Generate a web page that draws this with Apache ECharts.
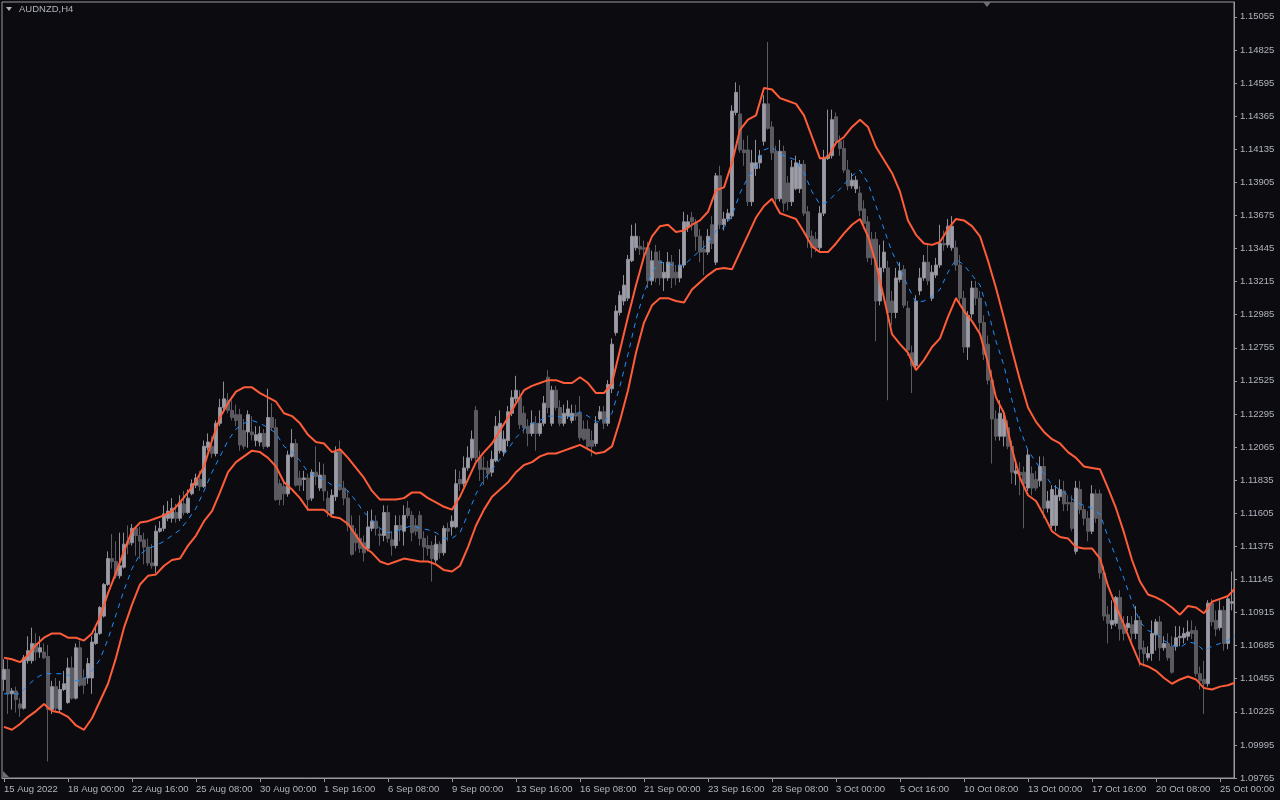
<!DOCTYPE html>
<html>
<head>
<meta charset="utf-8">
<script src="https://cdn.jsdelivr.net/npm/echarts@6/dist/echarts.min.js"></script>
<style>
html,body{margin:0;padding:0;background:#0b0b10;}
#chart{width:1280px;height:800px;}
</style>
</head>
<body>
<div id="chart"></div>
<script>
// ---- tick labels ----
const tickLabels = ["15 Aug 2022","18 Aug 00:00","22 Aug 16:00","25 Aug 08:00","30 Aug 00:00","1 Sep 16:00","6 Sep 08:00","9 Sep 00:00","13 Sep 16:00","16 Sep 08:00","21 Sep 00:00","23 Sep 16:00","28 Sep 08:00","3 Oct 00:00","5 Oct 16:00","10 Oct 08:00","13 Oct 00:00","17 Oct 16:00","20 Oct 08:00","25 Oct 00:00"];
const yTickStart = 1.09765;   // lowest price label
const yTickStep = 0.0023;     // price label spacing
const yTop = 1.15158;         // top edge of the price scale

// ---- candles: [open, close, low, high] ----
const candles = [
[1.1045,1.1052,1.1037,1.1059],[1.1052,1.1035,1.1021,1.1059],[1.1035,1.1037,1.1024,1.1039],[1.1037,1.1031,1.1022,1.1040],[1.1028,1.1025,1.1019,1.1032],
[1.1025,1.1060,1.1024,1.1062],[1.1058,1.1065,1.1056,1.1075],[1.1058,1.1070,1.1056,1.1081],[1.1070,1.1064,1.1058,1.1077],[1.1064,1.1067,1.1060,1.1075],
[1.1064,1.1060,1.1059,1.1070],[1.1061,1.1024,1.0988,1.1069],[1.1024,1.1040,1.1021,1.1044],[1.1040,1.1025,1.1023,1.1046],[1.1024,1.1038,1.1022,1.1044],
[1.1038,1.1042,1.1037,1.1051],[1.1029,1.1053,1.1028,1.1060],[1.1053,1.1032,1.1031,1.1061],[1.1032,1.1067,1.1031,1.1070],[1.1067,1.1041,1.1040,1.1072],
[1.1046,1.1041,1.1035,1.1052],[1.1046,1.1056,1.1042,1.1060],[1.1046,1.1071,1.1035,1.1075],[1.1070,1.1077,1.1069,1.1081],[1.1077,1.1095,1.1076,1.1096],
[1.1089,1.1111,1.1088,1.1112],[1.1111,1.1129,1.1110,1.1134],[1.1129,1.1127,1.1122,1.1146],[1.1127,1.1117,1.1115,1.1141],[1.1117,1.1124,1.1115,1.1147],
[1.1123,1.1139,1.1122,1.1147],[1.1141,1.1139,1.1132,1.1152],[1.1140,1.1150,1.1138,1.1153],[1.1150,1.1145,1.1131,1.1151],[1.1145,1.1141,1.1129,1.1151],
[1.1142,1.1137,1.1125,1.1147],[1.1137,1.1126,1.1124,1.1143],[1.1126,1.1124,1.1122,1.1139],[1.1124,1.1148,1.1119,1.1152],[1.1148,1.1150,1.1147,1.1155],
[1.1150,1.1160,1.1148,1.1166],[1.1157,1.1162,1.1155,1.1169],[1.1157,1.1164,1.1154,1.1171],[1.1161,1.1157,1.1154,1.1167],[1.1157,1.1168,1.1155,1.1173],
[1.1167,1.1161,1.1159,1.1176],[1.1161,1.1171,1.1160,1.1177],[1.1174,1.1181,1.1173,1.1184],[1.1180,1.1185,1.1178,1.1188],[1.1184,1.1179,1.1176,1.1190],
[1.1179,1.1207,1.1178,1.1211],[1.1206,1.1210,1.1204,1.1216],[1.1207,1.1202,1.1199,1.1214],[1.1202,1.1223,1.1200,1.1225],[1.1223,1.1234,1.1221,1.1240],
[1.1234,1.1240,1.1232,1.1252],[1.1239,1.1232,1.1230,1.1244],[1.1232,1.1227,1.1225,1.1239],[1.1229,1.1225,1.1221,1.1236],[1.1229,1.1208,1.1204,1.1233],
[1.1218,1.1207,1.1205,1.1226],[1.1217,1.1229,1.1206,1.1232],[1.1217,1.1215,1.1211,1.1228],[1.1211,1.1215,1.1207,1.1221],[1.1210,1.1216,1.1207,1.1221],
[1.1216,1.1207,1.1205,1.1219],[1.1207,1.1227,1.1206,1.1247],[1.1227,1.1220,1.1218,1.1237],[1.1220,1.1170,1.1169,1.1226],[1.1181,1.1170,1.1166,1.1184],
[1.1179,1.1174,1.1166,1.1183],[1.1174,1.1201,1.1172,1.1204],[1.1200,1.1209,1.1199,1.1219],[1.1209,1.1180,1.1179,1.1212],[1.1185,1.1180,1.1176,1.1190],
[1.1184,1.1185,1.1176,1.1190],[1.1185,1.1170,1.1162,1.1188],[1.1171,1.1189,1.1169,1.1191],[1.1189,1.1186,1.1180,1.1207],[1.1178,1.1187,1.1176,1.1196],
[1.1187,1.1176,1.1169,1.1195],[1.1171,1.1162,1.1158,1.1176],[1.1160,1.1173,1.1158,1.1177],[1.1172,1.1203,1.1169,1.1207],[1.1204,1.1177,1.1176,1.1211],
[1.1178,1.1171,1.1166,1.1183],[1.1171,1.1152,1.1148,1.1176],[1.1152,1.1132,1.1131,1.1159],[1.1146,1.1140,1.1134,1.1150],[1.1143,1.1136,1.1133,1.1159],
[1.1140,1.1133,1.1127,1.1145],[1.1136,1.1151,1.1134,1.1162],[1.1150,1.1155,1.1148,1.1163],[1.1155,1.1150,1.1145,1.1159],[1.1146,1.1145,1.1138,1.1150],
[1.1145,1.1161,1.1141,1.1166],[1.1161,1.1143,1.1140,1.1166],[1.1142,1.1138,1.1131,1.1148],[1.1138,1.1152,1.1136,1.1159],[1.1152,1.1149,1.1141,1.1159],
[1.1148,1.1159,1.1138,1.1166],[1.1164,1.1159,1.1157,1.1169],[1.1159,1.1147,1.1141,1.1162],[1.1152,1.1148,1.1145,1.1157],[1.1159,1.1143,1.1138,1.1162],
[1.1143,1.1137,1.1127,1.1148],[1.1138,1.1136,1.1131,1.1145],[1.1138,1.1129,1.1113,1.1141],[1.1128,1.1139,1.1126,1.1145],[1.1139,1.1133,1.1129,1.1141],
[1.1133,1.1150,1.1131,1.1152],[1.1150,1.1148,1.1141,1.1154],[1.1151,1.1155,1.1145,1.1159],[1.1151,1.1181,1.1150,1.1191],[1.1184,1.1181,1.1176,1.1190],
[1.1181,1.1192,1.1179,1.1200],[1.1192,1.1199,1.1190,1.1207],[1.1199,1.1212,1.1197,1.1218],[1.1232,1.1199,1.1197,1.1235],[1.1199,1.1191,1.1183,1.1204],
[1.1192,1.1191,1.1180,1.1200],[1.1192,1.1188,1.1184,1.1197],[1.1189,1.1198,1.1186,1.1204],[1.1197,1.1221,1.1196,1.1228],[1.1204,1.1223,1.1202,1.1232],
[1.1203,1.1212,1.1200,1.1218],[1.1211,1.1231,1.1207,1.1235],[1.1230,1.1241,1.1228,1.1246],[1.1240,1.1246,1.1238,1.1256],[1.1241,1.1222,1.1219,1.1246],
[1.1230,1.1220,1.1216,1.1235],[1.1221,1.1216,1.1207,1.1226],[1.1216,1.1223,1.1214,1.1232],[1.1223,1.1216,1.1204,1.1228],[1.1216,1.1223,1.1214,1.1232],
[1.1223,1.1237,1.1221,1.1242],[1.1255,1.1234,1.1230,1.1260],[1.1223,1.1246,1.1221,1.1249],[1.1246,1.1234,1.1232,1.1249],[1.1234,1.1223,1.1221,1.1239],
[1.1223,1.1230,1.1221,1.1236],[1.1228,1.1233,1.1226,1.1239],[1.1225,1.1230,1.1223,1.1236],[1.1230,1.1228,1.1225,1.1236],[1.1230,1.1213,1.1211,1.1242],
[1.1219,1.1212,1.1211,1.1225],[1.1219,1.1207,1.1205,1.1225],[1.1211,1.1207,1.1200,1.1218],[1.1209,1.1223,1.1207,1.1228],[1.1226,1.1231,1.1225,1.1235],
[1.1231,1.1223,1.1219,1.1235],[1.1223,1.1250,1.1221,1.1253],[1.1247,1.1278,1.1244,1.1282],[1.1286,1.1301,1.1284,1.1305],[1.1300,1.1312,1.1298,1.1315],
[1.1308,1.1319,1.1305,1.1326],[1.1310,1.1337,1.1308,1.1340],[1.1336,1.1353,1.1335,1.1361],[1.1345,1.1353,1.1343,1.1362],[1.1346,1.1344,1.1340,1.1353],
[1.1345,1.1344,1.1338,1.1350],[1.1345,1.1322,1.1317,1.1349],[1.1322,1.1336,1.1319,1.1343],[1.1342,1.1324,1.1321,1.1347],[1.1336,1.1324,1.1319,1.1343],
[1.1324,1.1328,1.1315,1.1335],[1.1324,1.1335,1.1322,1.1342],[1.1335,1.1324,1.1317,1.1340],[1.1328,1.1324,1.1319,1.1333],[1.1324,1.1333,1.1321,1.1344],
[1.1333,1.1363,1.1331,1.1370],[1.1359,1.1363,1.1356,1.1368],[1.1366,1.1363,1.1357,1.1370],[1.1362,1.1353,1.1343,1.1365],[1.1353,1.1342,1.1335,1.1358],
[1.1344,1.1342,1.1326,1.1350],[1.1342,1.1353,1.1340,1.1358],[1.1361,1.1348,1.1344,1.1367],[1.1335,1.1395,1.1333,1.1397],[1.1395,1.1361,1.1358,1.1402],
[1.1361,1.1365,1.1357,1.1370],[1.1365,1.1369,1.1363,1.1372],[1.1367,1.1440,1.1365,1.1444],[1.1439,1.1453,1.1437,1.1460],[1.1438,1.1413,1.1411,1.1458],
[1.1413,1.1411,1.1402,1.1420],[1.1413,1.1377,1.1374,1.1423],[1.1377,1.1404,1.1374,1.1413],[1.1400,1.1404,1.1395,1.1420],[1.1404,1.1409,1.1400,1.1413],
[1.1419,1.1445,1.1416,1.1451],[1.1445,1.1428,1.1427,1.1488],[1.1429,1.1411,1.1406,1.1433],[1.1412,1.1379,1.1374,1.1416],[1.1379,1.1412,1.1377,1.1420],
[1.1412,1.1376,1.1370,1.1416],[1.1390,1.1377,1.1371,1.1395],[1.1377,1.1401,1.1374,1.1406],[1.1386,1.1404,1.1385,1.1409],[1.1386,1.1403,1.1383,1.1406],
[1.1403,1.1369,1.1367,1.1406],[1.1370,1.1352,1.1345,1.1374],[1.1353,1.1345,1.1338,1.1357],[1.1351,1.1345,1.1342,1.1356],[1.1345,1.1369,1.1343,1.1374],
[1.1369,1.1407,1.1367,1.1413],[1.1407,1.1409,1.1406,1.1441],[1.1409,1.1434,1.1407,1.1441],[1.1436,1.1419,1.1416,1.1439],[1.1419,1.1414,1.1409,1.1423],
[1.1414,1.1399,1.1397,1.1420],[1.1399,1.1388,1.1385,1.1406],[1.1388,1.1392,1.1386,1.1397],[1.1386,1.1392,1.1383,1.1395],[1.1383,1.1371,1.1367,1.1388],
[1.1372,1.1362,1.1358,1.1378],[1.1363,1.1338,1.1335,1.1367],[1.1351,1.1338,1.1333,1.1356],[1.1351,1.1308,1.1280,1.1356],[1.1308,1.1331,1.1305,1.1347],
[1.1331,1.1342,1.1328,1.1350],[1.1331,1.1300,1.1239,1.1336],[1.1308,1.1300,1.1291,1.1315],[1.1300,1.1324,1.1296,1.1331],[1.1323,1.1329,1.1321,1.1335],
[1.1330,1.1305,1.1303,1.1333],[1.1303,1.1274,1.1270,1.1308],[1.1272,1.1263,1.1244,1.1277],[1.1263,1.1308,1.1261,1.1312],[1.1315,1.1324,1.1312,1.1331],
[1.1324,1.1335,1.1322,1.1340],[1.1335,1.1322,1.1319,1.1347],[1.1310,1.1328,1.1308,1.1333],[1.1326,1.1333,1.1324,1.1338],[1.1333,1.1348,1.1331,1.1361],
[1.1348,1.1347,1.1343,1.1357],[1.1347,1.1360,1.1345,1.1365],[1.1345,1.1360,1.1343,1.1367],[1.1345,1.1333,1.1329,1.1350],[1.1333,1.1310,1.1305,1.1340],
[1.1310,1.1276,1.1272,1.1315],[1.1276,1.1298,1.1267,1.1301],[1.1299,1.1317,1.1296,1.1322],[1.1317,1.1310,1.1305,1.1322],[1.1310,1.1293,1.1284,1.1315],
[1.1293,1.1271,1.1267,1.1298],[1.1278,1.1253,1.1250,1.1284],[1.1253,1.1226,1.1195,1.1260],[1.1226,1.1214,1.1211,1.1232],[1.1214,1.1230,1.1211,1.1239],
[1.1214,1.1226,1.1207,1.1232],[1.1220,1.1207,1.1205,1.1225],[1.1207,1.1189,1.1181,1.1211],[1.1188,1.1190,1.1180,1.1197],[1.1189,1.1187,1.1173,1.1196],
[1.1189,1.1181,1.1150,1.1193],[1.1178,1.1201,1.1176,1.1205],[1.1188,1.1178,1.1173,1.1193],[1.1184,1.1178,1.1176,1.1190],[1.1183,1.1193,1.1179,1.1200],
[1.1193,1.1164,1.1157,1.1200],[1.1164,1.1169,1.1161,1.1176],[1.1152,1.1177,1.1150,1.1180],[1.1152,1.1173,1.1148,1.1180],[1.1172,1.1177,1.1169,1.1184],
[1.1176,1.1167,1.1162,1.1183],[1.1168,1.1167,1.1162,1.1173],[1.1168,1.1150,1.1148,1.1173],[1.1134,1.1178,1.1132,1.1183],[1.1177,1.1163,1.1160,1.1183],
[1.1163,1.1157,1.1152,1.1166],[1.1157,1.1148,1.1141,1.1162],[1.1148,1.1174,1.1146,1.1180],[1.1174,1.1157,1.1154,1.1177],[1.1174,1.1119,1.1115,1.1177],
[1.1119,1.1089,1.1086,1.1124],[1.1090,1.1084,1.1070,1.1096],[1.1083,1.1086,1.1080,1.1100],[1.1084,1.1102,1.1082,1.1103],[1.1102,1.1080,1.1072,1.1107],
[1.1083,1.1077,1.1072,1.1089],[1.1081,1.1084,1.1079,1.1089],[1.1083,1.1077,1.1072,1.1089],[1.1077,1.1086,1.1073,1.1096],[1.1086,1.1066,1.1054,1.1089],
[1.1067,1.1063,1.1054,1.1072],[1.1060,1.1063,1.1058,1.1068],[1.1063,1.1077,1.1058,1.1086],[1.1076,1.1085,1.1065,1.1087],[1.1085,1.1067,1.1058,1.1089],
[1.1067,1.1070,1.1065,1.1075],[1.1070,1.1060,1.1058,1.1077],[1.1068,1.1050,1.1049,1.1075],[1.1068,1.1074,1.1065,1.1082],[1.1074,1.1075,1.1068,1.1082],
[1.1074,1.1077,1.1070,1.1081],[1.1075,1.1078,1.1072,1.1086],[1.1079,1.1077,1.1073,1.1086],[1.1079,1.1049,1.1047,1.1082],[1.1049,1.1044,1.1038,1.1054],
[1.1045,1.1042,1.1021,1.1058],[1.1042,1.1098,1.1040,1.1100],[1.1098,1.1085,1.1082,1.1101],[1.1086,1.1080,1.1075,1.1093],[1.1081,1.1093,1.1079,1.1100],
[1.1093,1.1070,1.1065,1.1096],[1.1070,1.1101,1.1066,1.1103],[1.1098,1.1099,1.1093,1.1120]
];

// ---- band values, read every second bar (bar 0, 2, 4, ...) ----
const upperBand = [1.1060,1.1059,1.1057,1.1062,1.1069,1.1074,1.1077,1.1077,1.1074,1.1074,
1.1072,1.1077,1.1088,1.1105,1.1119,1.1134,1.1148,1.1154,1.1155,1.1157,
1.1159,1.1162,1.1168,1.1175,1.1183,1.1193,1.1211,1.1227,1.1237,1.1245,
1.1248,1.1248,1.1244,1.1241,1.1238,1.1230,1.1228,1.1223,1.1215,1.1210,
1.1209,1.1203,1.1205,1.1199,1.1192,1.1185,1.1176,1.1170,1.1170,1.1170,
1.1171,1.1175,1.1175,1.1171,1.1168,1.1165,1.1163,1.1172,1.1184,1.1196,
1.1203,1.1209,1.1218,1.1227,1.1237,1.1246,1.1249,1.1251,1.1253,1.1253,
1.1251,1.1251,1.1255,1.1251,1.1244,1.1244,1.1251,1.1274,1.1297,1.1319,
1.1339,1.1353,1.1360,1.1361,1.1356,1.1357,1.1361,1.1364,1.1370,1.1385,
1.1387,1.1404,1.1427,1.1434,1.1437,1.1456,1.1455,1.1449,1.1447,1.1445,
1.1437,1.1422,1.1407,1.1408,1.1418,1.1422,1.1429,1.1434,1.1429,1.1415,
1.1406,1.1397,1.1384,1.1364,1.1354,1.1348,1.1347,1.1349,1.1358,1.1365,
1.1364,1.1360,1.1353,1.1336,1.1317,1.1296,1.1274,1.1253,1.1234,1.1224,
1.1217,1.1212,1.1209,1.1203,1.1199,1.1193,1.1192,1.1191,1.1178,1.1164,
1.1147,1.1128,1.1113,1.1104,1.1102,1.1099,1.1095,1.1090,1.1096,1.1095,
1.1091,1.1099,1.1101,1.1103,1.1109];
const middleBand = [1.1035,1.1035,1.1035,1.1041,1.1046,1.1049,1.1049,1.1049,1.1048,1.1044,
1.1045,1.1051,1.1059,1.1073,1.1090,1.1107,1.1122,1.1132,1.1136,1.1138,
1.1141,1.1145,1.1149,1.1156,1.1164,1.1176,1.1189,1.1200,1.1211,1.1219,
1.1223,1.1225,1.1223,1.1220,1.1216,1.1207,1.1203,1.1197,1.1189,1.1186,
1.1184,1.1180,1.1180,1.1176,1.1169,1.1161,1.1156,1.1150,1.1147,1.1148,
1.1150,1.1152,1.1150,1.1149,1.1147,1.1143,1.1143,1.1147,1.1160,1.1174,
1.1184,1.1191,1.1198,1.1205,1.1213,1.1219,1.1223,1.1225,1.1228,1.1228,
1.1227,1.1228,1.1231,1.1228,1.1224,1.1224,1.1230,1.1249,1.1271,1.1295,
1.1314,1.1328,1.1335,1.1334,1.1332,1.1333,1.1338,1.1343,1.1348,1.1357,
1.1359,1.1367,1.1383,1.1394,1.1401,1.1413,1.1415,1.1410,1.1408,1.1406,
1.1397,1.1384,1.1375,1.1377,1.1383,1.1389,1.1395,1.1399,1.1390,1.1374,
1.1358,1.1342,1.1331,1.1318,1.1307,1.1308,1.1311,1.1316,1.1328,1.1337,
1.1333,1.1326,1.1319,1.1301,1.1280,1.1263,1.1239,1.1219,1.1204,1.1196,
1.1188,1.1180,1.1177,1.1173,1.1168,1.1166,1.1164,1.1160,1.1144,1.1130,
1.1115,1.1099,1.1085,1.1079,1.1077,1.1072,1.1069,1.1067,1.1071,1.1070,
1.1065,1.1068,1.1070,1.1072,1.1076];
const lowerBand = [1.1012,1.1010,1.1014,1.1019,1.1023,1.1028,1.1023,1.1022,1.1019,1.1013,
1.1010,1.1018,1.1030,1.1042,1.1060,1.1081,1.1097,1.1111,1.1117,1.1118,
1.1124,1.1128,1.1129,1.1138,1.1145,1.1155,1.1162,1.1175,1.1189,1.1196,
1.1200,1.1204,1.1203,1.1199,1.1193,1.1182,1.1177,1.1171,1.1163,1.1163,
1.1163,1.1158,1.1157,1.1153,1.1145,1.1137,1.1133,1.1127,1.1125,1.1127,
1.1129,1.1128,1.1127,1.1127,1.1125,1.1121,1.1120,1.1124,1.1137,1.1152,
1.1163,1.1172,1.1177,1.1182,1.1189,1.1194,1.1196,1.1200,1.1202,1.1202,
1.1204,1.1206,1.1208,1.1205,1.1202,1.1203,1.1207,1.1225,1.1246,1.1272,
1.1293,1.1305,1.1310,1.1310,1.1308,1.1307,1.1316,1.1321,1.1326,1.1330,
1.1331,1.1330,1.1342,1.1354,1.1366,1.1374,1.1379,1.1369,1.1367,1.1365,
1.1356,1.1346,1.1342,1.1342,1.1348,1.1355,1.1361,1.1365,1.1353,1.1334,
1.1310,1.1285,1.1278,1.1272,1.1260,1.1267,1.1276,1.1282,1.1297,1.1310,
1.1301,1.1294,1.1285,1.1265,1.1241,1.1230,1.1205,1.1185,1.1173,1.1169,
1.1159,1.1148,1.1144,1.1143,1.1137,1.1136,1.1136,1.1129,1.1110,1.1096,
1.1083,1.1069,1.1056,1.1054,1.1051,1.1046,1.1042,1.1045,1.1047,1.1045,
1.1039,1.1038,1.1040,1.1041,1.1043];

// ---- category labels (H4 bars, weekdays only) ----
const categories = [];
(function () {
  const mon = ['Jan','Feb','Mar','Apr','May','Jun','Jul','Aug','Sep','Oct','Nov','Dec'];
  let t = Date.UTC(2022, 7, 15, 8);
  while (categories.length < candles.length) {
    const d = new Date(t);
    const wd = d.getUTCDay();
    if (wd !== 0 && wd !== 6) {
      categories.push(d.getUTCDate() + ' ' + mon[d.getUTCMonth()] + ' ' + String(d.getUTCHours()).padStart(2, '0') + ':00');
    }
    t += 4 * 3600 * 1000;
  }
})();

const pairs = arr => arr.map((v, k) => [k * 2, v]);

const chart = echarts.init(document.getElementById('chart'), null, {renderer: 'canvas'});
const labelColor = '#b0b4bd';
const axisColor = '#9a9a9e';
const fontFamily = '"Liberation Sans", Arial, sans-serif';

chart.setOption({
  backgroundColor: '#0b0b10',
  animation: false,
  grid: {left: 2, right: 46, top: 2, bottom: 22, show: true, borderColor: axisColor, borderWidth: 1, backgroundColor: 'transparent'},
  xAxis: [{
    type: 'category',
    data: categories,
    boundaryGap: true,
    axisLine: {show: true, onZero: false, lineStyle: {color: axisColor, width: 1}},
    axisTick: {show: true, alignWithLabel: true, interval: 15, length: 4, lineStyle: {color: axisColor}},
    axisLabel: {
      interval: 15, align: 'left', margin: 6, color: labelColor, fontSize: 9.5, fontFamily: fontFamily,
      formatter: (v, i) => tickLabels[Math.round(i / 16)] || ''
    },
    splitLine: {show: false}
  }, {
    type: 'value', min: -0.5, max: 307.5, show: false,
    axisLine: {onZero: false}
  }],
  yAxis: {
    type: 'value',
    position: 'right',
    min: yTickStart,
    max: yTop,
    interval: yTickStep,
    axisLine: {show: true, onZero: false, lineStyle: {color: axisColor, width: 1}},
    axisTick: {show: true, length: 3, lineStyle: {color: axisColor}},
    axisLabel: {showMaxLabel: false, margin: 6, color: labelColor, fontSize: 9.5, fontFamily: fontFamily,
      formatter: v => (v > yTop - 0.0005 ? '' : v.toFixed(5))},
    splitLine: {show: false}
  },
  series: [{
    type: 'candlestick',
    xAxisIndex: 0,
    data: candles,
    barWidth: 3,
    itemStyle: {color: '#9c9da6', color0: '#5a5a60', borderColor: '#8e8f98', borderColor0: '#5a5a60', borderWidth: 1}
  }, {
    type: 'line', xAxisIndex: 1, data: pairs(upperBand), symbol: 'none', clip: true,
    lineStyle: {color: '#ff5d3a', width: 2}
  }, {
    type: 'line', xAxisIndex: 1, data: pairs(lowerBand), symbol: 'none', clip: true,
    lineStyle: {color: '#ff5d3a', width: 2}
  }, {
    type: 'line', xAxisIndex: 1, data: pairs(middleBand), symbol: 'none', clip: true,
    lineStyle: {color: '#1e90ff', width: 1, type: [5, 5]}
  }],
  graphic: [
    {type: 'polygon', shape: {points: [[6, 7], [12, 7], [9, 11]]}, style: {fill: '#b0b4bc'}},
    {type: 'text', left: 19, top: 4, style: {text: 'AUDNZD,H4', fill: labelColor, font: '9.5px "Liberation Sans", Arial, sans-serif'}},
    {type: 'polygon', shape: {points: [[983, 2], [991, 2], [987, 7]]}, style: {fill: '#6e6e74'}},
    {type: 'polygon', shape: {points: [[3, 771], [3, 777], [9, 777]]}, style: {fill: '#6e6e74'}}
  ]
});
</script>
</body>
</html>
